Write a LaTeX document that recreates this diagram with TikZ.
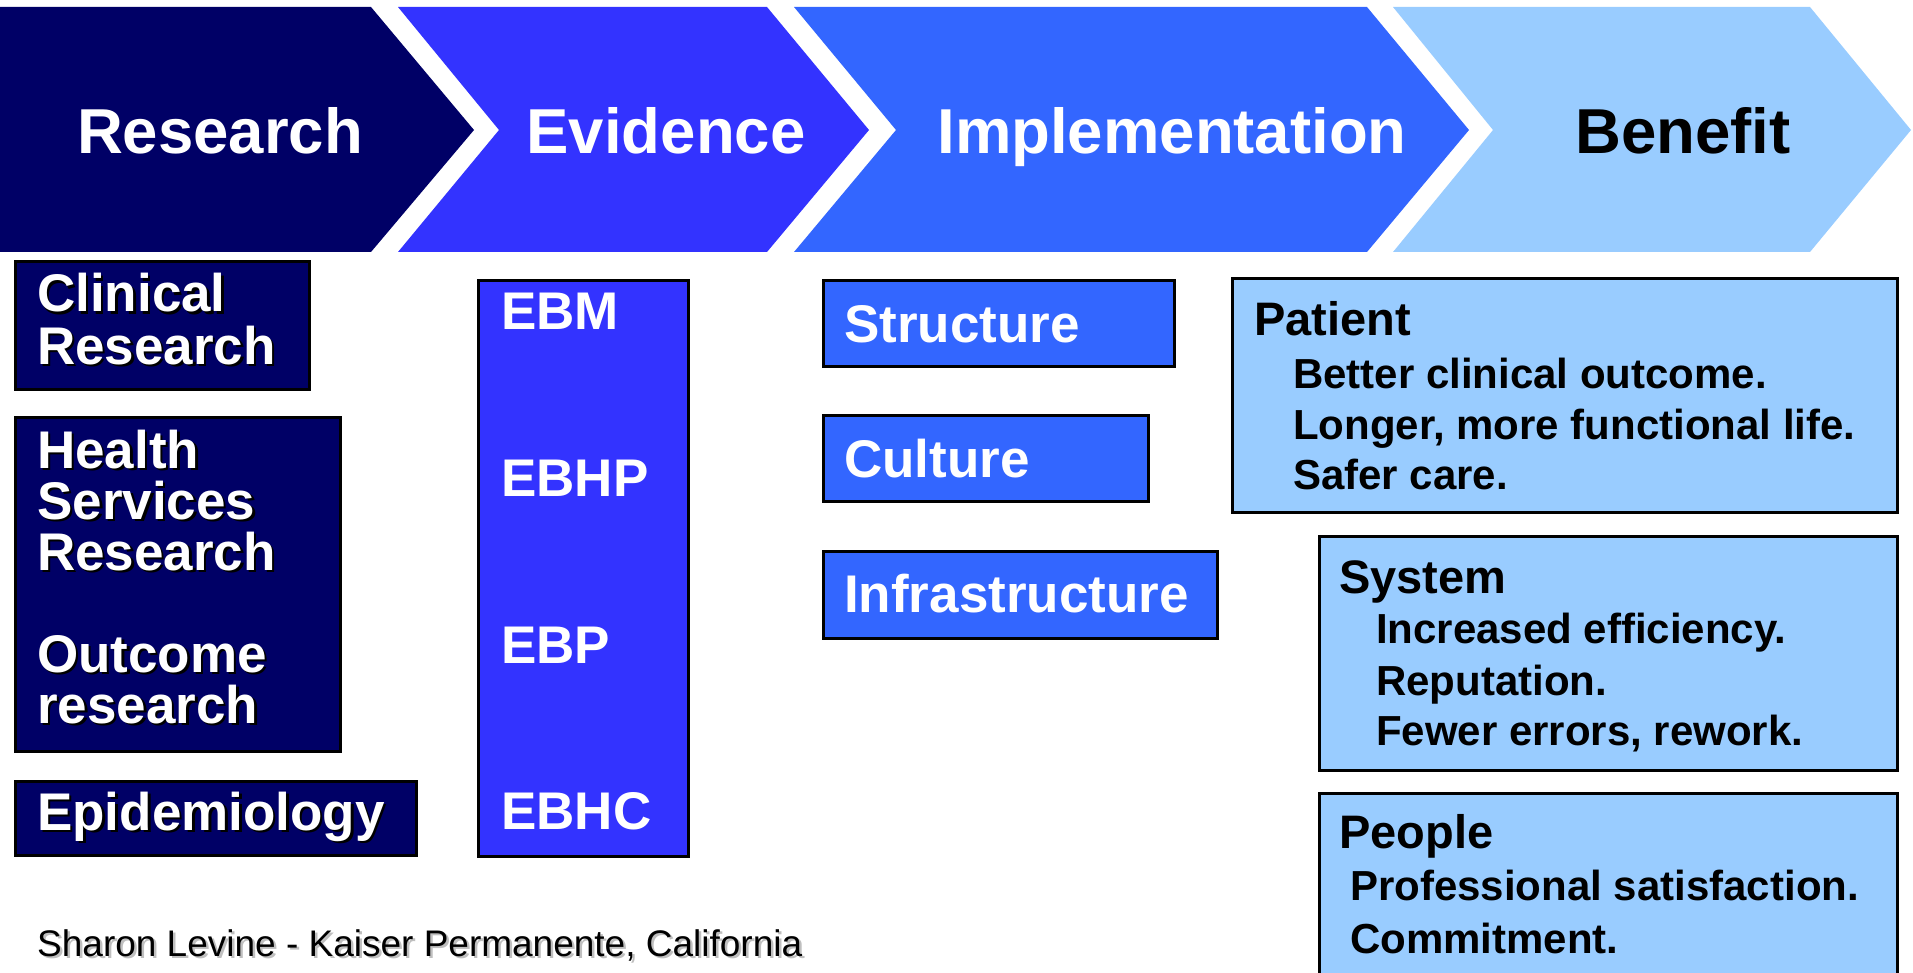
\documentclass[tikz,border=0pt]{standalone}
\usepackage{fontspec}
\setmainfont{Liberation Sans}
\usepackage{tikz}
\usetikzlibrary{positioning}

\definecolor{navy}{HTML}{000066}
\definecolor{evblue}{HTML}{3333FF}
\definecolor{impblue}{HTML}{3366FF}
\definecolor{benblue}{HTML}{99CCFF}

\tikzset{
    box/.style={draw=black, line width=3pt},
    headtext/.style={anchor=base, inner sep=0pt, font=\bfseries\fontsize{63.5}{70}\selectfont},
    boxtext/.style={anchor=base west, inner sep=0pt, text=white, font=\bfseries\fontsize{53}{58}\selectfont},
    bentitle/.style={anchor=base west, inner sep=0pt, font=\bfseries\fontsize{47}{52}\selectfont},
    benitem/.style={anchor=base west, inner sep=0pt, font=\bfseries\fontsize{42}{46}\selectfont},
    foottext/.style={anchor=base west, inner sep=0pt, font=\fontsize{37}{42}\selectfont}
}

% text with a shadow behind it
\newcommand{\shline}[5]{%
    \node[#2, text=#3, xshift=2.5pt, yshift=-2.5pt] at (#4) {#5};
    \node[#2] (#1) at (#4) {#5};}

\begin{document}
\begin{tikzpicture}[x=1pt,y=-1pt]
    \useasboundingbox (0,0) rectangle (1913,973);

    % chevrons
    \fill[navy]    (0,7) -- (371,7) -- (474,130) -- (371,252) -- (0,252) -- cycle;
    \fill[evblue]  (398,7) -- (767,7) -- (869,130) -- (767,252) -- (398,252) -- (499,130) -- cycle;
    \fill[impblue] (794,7) -- (1367,7) -- (1469,130) -- (1367,252) -- (794,252) -- (896,130) -- cycle;
    \fill[benblue] (1393,7) -- (1810,7) -- (1911,130) -- (1810,252) -- (1393,252) -- (1493,130) -- cycle;

    \node[headtext, text=white] (research) at (220,154) {Research};
    \node[headtext, text=white] (evidence) at (666,154) {Evidence};
    \node[headtext, text=white] (implement) at (1172,154) {Implementation};
    \node[headtext, text=black] (benefit) at (1683,154) {Benefit};

    % research column
    \draw[box, fill=navy] (15,262) rectangle (309,389);
    \draw[box, fill=navy] (15,417) rectangle (340,751);
    \draw[box, fill=navy] (15,781) rectangle (416,855);

    \shline{clin1}{boxtext}{black}{37,312}{Clinical}
    \shline{clin2}{boxtext}{black}{37,364}{Research}
    \shline{hsr1}{boxtext}{black}{37,468}{Health}
    \shline{hsr2}{boxtext}{black}{37,519}{Services}
    \shline{hsr3}{boxtext}{black}{37,570}{Research}
    \shline{out1}{boxtext}{black}{37,672}{Outcome}
    \shline{out2}{boxtext}{black}{37,723}{research}
    \shline{epi}{boxtext}{black}{37,830}{Epidemiology}

    % evidence column
    \draw[box, fill=evblue] (478,281) rectangle (688,856);
    \foreach \t/\y [count=\i] in {EBM/330, EBHP/496, EBP/663, EBHC/829}
        \node[boxtext] (ev\i) at (501,\y) {\t};

    % implementation column
    \draw[box, fill=impblue] (823,281) rectangle (1174,366);
    \draw[box, fill=impblue] (823,415) rectangle (1148,501);
    \draw[box, fill=impblue] (823,551) rectangle (1217,638);

    \node[boxtext] (structure) at (844,342) {Structure};
    \node[boxtext] (culture) at (844,477) {Culture};
    \node[boxtext] (infra) at (844,612) {Infrastructure};

    % benefit column
    \draw[box, fill=benblue] (1232,279) rectangle (1897,512);
    \draw[box, fill=benblue] (1319,536) rectangle (1897,770);
    \draw[box, fill=benblue] (1319,793) rectangle (1897,990);

    \node[bentitle] (patient) at (1254,335) {Patient};
    \foreach \t/\y [count=\i] in {Better clinical outcome./388, {Longer, more functional life.}/439, Safer care./489}
        \node[benitem] (pat\i) at (1293,\y) {\t};

    \node[bentitle] (system) at (1339,593) {System};
    \foreach \t/\y [count=\i] in {Increased efficiency./643, Reputation./695, {Fewer errors, rework.}/745}
        \node[benitem] (sys\i) at (1376,\y) {\t};

    \node[bentitle] (people) at (1339,848) {People};
    \foreach \t/\y [count=\i] in {Professional satisfaction./900, Commitment./953}
        \node[benitem] (peo\i) at (1350,\y) {\t};

    % source
    \shline{source}{foottext}{black!25}{37,956}{Sharon Levine - Kaiser Permanente, California}
\end{tikzpicture}
\end{document}
